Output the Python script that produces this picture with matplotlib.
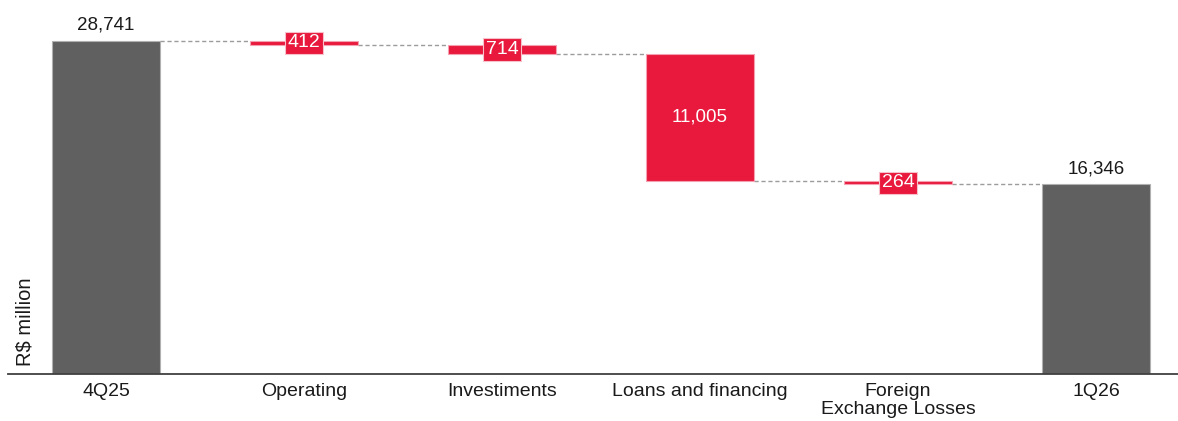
import matplotlib
matplotlib.use("Agg")
import matplotlib.pyplot as plt
import numpy as np

plt.rcParams['font.family'] = ['Liberation Sans', 'DejaVu Sans']

categories = ["4Q25", "Operating", "Investiments", "Loans and financing",
              "Foreign\nExchange Losses", "1Q26"]
opening = 28741
changes = [-412, -714, -11005, -264]
closing = 16346
value_labels = ["28,741", "412", "714", "11,005", "264", "16,346"]

RED = "#E8193C"
GRAY = "#606060"

fig = plt.figure(figsize=(11.78, 4.21), dpi=100)
ax = fig.add_axes([8 / 1178, 47 / 421, 1 - 8 / 1178, 374 / 421])

x = np.arange(len(categories))
width = 0.55

# running levels after each change
levels = [opening]
for c in changes:
    levels.append(levels[-1] + c)

bottoms, heights, colors = [0], [opening], [GRAY]
for i, c in enumerate(changes):
    start, end = levels[i], levels[i + 1]
    bottoms.append(min(start, end))
    heights.append(abs(c))
    colors.append(RED)
bottoms.append(0)
heights.append(closing)
colors.append(GRAY)

edges = ["#b0b0b0" if col == GRAY else "#f4a0b0" for col in colors]
ax.bar(x, heights, width, bottom=bottoms, color=colors, edgecolor=edges,
       linewidth=0.8, zorder=2)

# dashed connectors between consecutive bars
for i in range(len(x) - 1):
    lvl = levels[i] if i < len(levels) else closing
    ax.plot([x[i] + width / 2, x[i + 1] - width / 2], [lvl, lvl],
            color="#9c9c9c", lw=1.0, ls=(0, (3, 2)), zorder=1)

# value labels
ax.text(x[0], opening + 600, value_labels[0], ha="center", va="bottom",
        fontsize=13.5, color="#1a1a1a")
ax.text(x[-1], closing + 600, value_labels[-1], ha="center", va="bottom",
        fontsize=13.5, color="#1a1a1a")
for i in range(1, len(x) - 1):
    mid = bottoms[i] + heights[i] / 2
    if heights[i] > 3000:
        ax.text(x[i], mid, value_labels[i], ha="center", va="center",
                fontsize=13.5, color="white", zorder=4)
    else:
        ax.text(x[i], mid, value_labels[i], ha="center", va="center",
                fontsize=14, color="white", zorder=4,
                bbox=dict(boxstyle="square,pad=0.14", fc=RED, ec="#f7c0cb", lw=0.8))

ax.set_xlim((8 - 106) / 198, (1178 - 106) / 198)
ax.set_ylim(0, opening * 374 / 333.5)

ax.set_xticks(x)
ax.set_xticklabels(categories, fontsize=14, color="#1a1a1a", linespacing=1.08)
ax.tick_params(axis="x", length=0, pad=6.5)
ax.set_yticks([])
for s in ["top", "right", "left"]:
    ax.spines[s].set_visible(False)
ax.spines["bottom"].set_color("#404040")
ax.spines["bottom"].set_linewidth(1.3)

fig.text(25 / 1178, (421 - 322) / 421, "R$ million", rotation=90, ha="center",
         va="center", fontsize=14.5, color="#1a1a1a")

fig.savefig("out.png", dpi=100)
